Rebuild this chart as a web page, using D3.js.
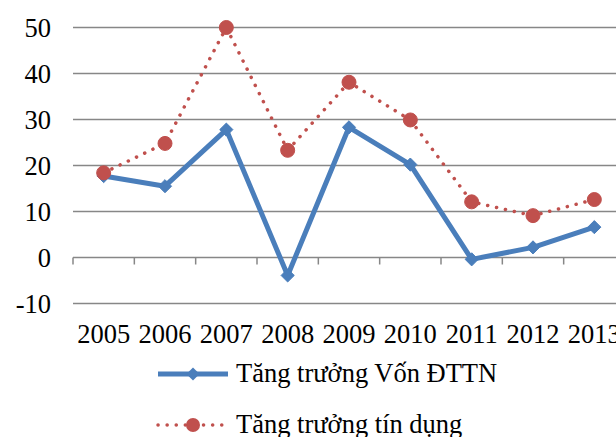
<!DOCTYPE html>
<html>
<head>
<meta charset="utf-8">
<script src="https://cdn.jsdelivr.net/npm/d3@7"></script>
<style>
  body { margin: 0; background: #fff; }
  svg { display: block; font-family: "Liberation Serif", "Times New Roman", serif; }
</style>
</head>
<body>
<div id="chart"></div>
<script>
const years = ['2005', '2006', '2007', '2008', '2009', '2010', '2011', '2012', '2013'];
const vonDTTN = [17.7, 15.5, 27.8, -3.9, 28.3, 20.2, -0.4, 2.2, 6.6];
const tinDung = [18.4, 24.8, 50, 23.3, 38.1, 29.9, 12.1, 9.1, 12.6];
const yTicks = [-10, 0, 10, 20, 30, 40, 50];
const seriesNames = ['Tăng trưởng Vốn ĐTTN', 'Tăng trưởng tín dụng'];

const width = 616, height = 437;
const margin = {top: 27.5, left: 73};
const plotRight = 625;
const fontSize = 26.5;

const svg = d3.select('#chart').append('svg')
    .attr('width', width)
    .attr('height', height);

const x = d3.scaleBand()
    .domain(years)
    .range([margin.left, plotRight]);

const y = d3.scaleLinear()
    .domain([-10, 50])
    .range([303.5, margin.top]);

// gridlines
svg.append('g')
  .selectAll('line')
    .data(yTicks)
  .enter().append('line')
    .attr('x1', margin.left)
    .attr('x2', plotRight)
    .attr('y1', d => y(d))
    .attr('y2', d => y(d))
    .attr('stroke', '#878787')
    .attr('stroke-width', 1.5);

// category ticks on the zero line
svg.append('g')
  .selectAll('line')
    .data(years)
  .enter().append('line')
    .attr('x1', d => x(d))
    .attr('x2', d => x(d))
    .attr('y1', y(0))
    .attr('y2', y(0) + 7)
    .attr('stroke', '#878787')
    .attr('stroke-width', 1.5);

// y labels
svg.append('g')
  .selectAll('text')
    .data(yTicks)
  .enter().append('text')
    .attr('x', 51)
    .attr('y', d => y(d))
    .attr('dy', '0.35em')
    .attr('text-anchor', 'end')
    .attr('font-size', fontSize)
    .attr('fill', '#000')
    .text(d => d);

// x labels
svg.append('g')
  .selectAll('text')
    .data(years)
  .enter().append('text')
    .attr('x', d => x(d) + x.bandwidth() / 2)
    .attr('y', 343)
    .attr('text-anchor', 'middle')
    .attr('font-size', fontSize)
    .attr('fill', '#000')
    .text(d => d);

const cx = (d, i) => x(years[i]) + x.bandwidth() / 2;
const line = d3.line()
    .x(cx)
    .y(d => y(d));

const blue = '#4a7ebb', red = '#c0504d';

// credit growth, dotted
svg.append('path')
    .datum(tinDung)
    .attr('d', line)
    .attr('fill', 'none')
    .attr('stroke', red)
    .attr('stroke-width', 3.5)
    .attr('stroke-linecap', 'round')
    .attr('stroke-dasharray', '0.1 9');

// investment growth, solid
svg.append('path')
    .datum(vonDTTN)
    .attr('d', line)
    .attr('fill', 'none')
    .attr('stroke', blue)
    .attr('stroke-width', 5)
    .attr('stroke-linejoin', 'round');

const diamond = d3.symbol().type(d3.symbolDiamond2).size(110);

svg.append('g')
  .selectAll('path')
    .data(vonDTTN)
  .enter().append('path')
    .attr('d', diamond)
    .attr('transform', (d, i) => `translate(${cx(d, i)},${y(d)})`)
    .attr('fill', blue)
    .attr('stroke', blue)
    .attr('stroke-width', 1);

svg.append('g')
  .selectAll('circle')
    .data(tinDung)
  .enter().append('circle')
    .attr('cx', cx)
    .attr('cy', d => y(d))
    .attr('r', 7)
    .attr('fill', red)
    .attr('stroke', red)
    .attr('stroke-width', 1);

// legend
const legend = svg.append('g');
const lx1 = 158, lx2 = 228;

legend.append('line')
    .attr('x1', lx1).attr('x2', lx2)
    .attr('y1', 374).attr('y2', 374)
    .attr('stroke', blue)
    .attr('stroke-width', 5);
legend.append('path')
    .attr('d', diamond)
    .attr('transform', `translate(${(lx1 + lx2) / 2},374)`)
    .attr('fill', blue);
legend.append('text')
    .attr('x', 236)
    .attr('y', 382)
    .attr('font-size', fontSize)
    .text(seriesNames[0]);

legend.append('line')
    .attr('x1', lx1).attr('x2', lx2)
    .attr('y1', 425).attr('y2', 425)
    .attr('stroke', red)
    .attr('stroke-width', 3.5)
    .attr('stroke-linecap', 'round')
    .attr('stroke-dasharray', '0.1 9');
legend.append('circle')
    .attr('cx', (lx1 + lx2) / 2)
    .attr('cy', 425)
    .attr('r', 7)
    .attr('fill', red);
legend.append('text')
    .attr('x', 236)
    .attr('y', 433)
    .attr('font-size', fontSize)
    .text(seriesNames[1]);
</script>
</body>
</html>
